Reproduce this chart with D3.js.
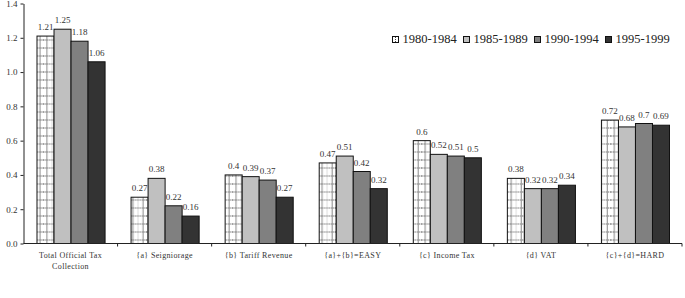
<!DOCTYPE html>
<html>
<head>
<meta charset="utf-8">
<script src="https://cdn.jsdelivr.net/npm/d3@7"></script>
<style>
  body { margin: 0; background: #fff; }
  svg { display: block; font-family: 'Liberation Serif', 'Times New Roman', serif; }
</style>
</head>
<body>
<svg width="685" height="298"></svg>
<script>
const categories = ['Total Official Tax Collection', '{a} Seigniorage', '{b} Tariff Revenue', '{a}+{b}=EASY', '{c} Income Tax', '{d} VAT', '{c}+{d}=HARD']
const categoryLines = [['Total Official Tax', 'Collection'], ['{a} Seigniorage'], ['{b} Tariff Revenue'], ['{a}+{b}=EASY'], ['{c} Income Tax'], ['{d} VAT'], ['{c}+{d}=HARD']]
const series = ['1980-1984', '1985-1989', '1990-1994', '1995-1999']
const v1980 = [1.21, 0.27, 0.4, 0.47, 0.6, 0.38, 0.72]
const v1985 = [1.25, 0.38, 0.39, 0.51, 0.52, 0.32, 0.68]
const v1990 = [1.18, 0.22, 0.37, 0.42, 0.51, 0.32, 0.7]
const v1995 = [1.06, 0.16, 0.27, 0.32, 0.5, 0.34, 0.69]
const yTicks = [0, 0.2, 0.4, 0.6, 0.8, 1.0, 1.2, 1.4]

const svg = d3.select('svg')
const plotLeft = 23.5, plotRight = 682, plotTop = 3.5, plotBottom = 243.5

const values = [v1980, v1985, v1990, v1995]
const fills = ['#fff', '#c0c0c0', '#808080', '#333333']

const x0 = d3.scaleBand().domain(categories).range([plotLeft, plotRight]).padding(0)
const x1 = d3.scaleBand().domain(series).range([13, x0.bandwidth() - 13]).padding(0)
const y = d3.scaleLinear().domain([0, 1.4]).range([plotBottom, plotTop])
const bw = x1.bandwidth()

// dotted grid for the first series, one pattern per bar so it lines up
const defs = svg.append('defs')
const pats = defs.selectAll('pattern')
  .data(categories)
  .join('pattern')
  .attr('id', (d, i) => 'grid' + i)
  .attr('patternUnits', 'userSpaceOnUse')
  .attr('x', d => x0(d) + x1(series[0]) + 0.5)
  .attr('y', plotBottom)
  .attr('width', bw).attr('height', 8)
pats.append('rect').attr('width', bw).attr('height', 8).attr('fill', '#fff')
pats.append('line').attr('x1', 3.5).attr('x2', 3.5).attr('y1', 0).attr('y2', 8)
  .attr('stroke', '#111').attr('stroke-dasharray', '1,1')
pats.append('line').attr('x1', bw - 3.5).attr('x2', bw - 3.5).attr('y1', 0).attr('y2', 8)
  .attr('stroke', '#111').attr('stroke-dasharray', '1,1')
pats.append('line').attr('x1', bw / 2).attr('x2', bw / 2).attr('y1', 0).attr('y2', 8)
  .attr('stroke', '#bbb').attr('stroke-dasharray', '1,1')
pats.append('line').attr('x1', 0).attr('x2', bw).attr('y1', 4.5).attr('y2', 4.5)
  .attr('stroke', '#444').attr('stroke-dasharray', '1,1')

// bars
const groups = svg.append('g')
  .selectAll('g')
  .data(categories)
  .join('g')
  .attr('transform', d => `translate(${x0(d)},0)`)

groups.selectAll('rect')
  .data((d, i) => series.map((s, j) => ({ s, j, i, v: values[j][i] })))
  .join('rect')
  .attr('x', d => x1(d.s) + 0.5)
  .attr('y', d => y(d.v))
  .attr('width', bw)
  .attr('height', d => plotBottom - y(d.v))
  .attr('fill', d => d.j === 0 ? `url(#grid${d.i})` : fills[d.j])
  .attr('stroke', '#111')
  .attr('stroke-width', 1)

groups.selectAll('text.val')
  .data((d, i) => series.map((s, j) => ({ s, j, v: values[j][i] })))
  .join('text')
  .attr('class', 'val')
  .attr('x', d => x1(d.s) + bw / 2 + 0.5)
  .attr('y', d => y(d.v) - 6)
  .attr('text-anchor', 'middle')
  .attr('font-size', 9)
  .attr('fill', '#333')
  .text(d => String(d.v))

// y axis
const yAxis = svg.append('g')
  .attr('transform', `translate(${plotLeft},0)`)
  .call(d3.axisLeft(y).tickValues(yTicks).tickFormat(d3.format('.1f')).tickSize(3).tickSizeOuter(0))
yAxis.select('.domain').attr('stroke', '#222')
yAxis.selectAll('line').attr('stroke', '#222')
yAxis.selectAll('text')
  .attr('font-family', "'Liberation Serif', serif")
  .attr('font-size', 9)
  .attr('fill', '#333')
  .attr('x', -6)

// x axis
const xAxis = svg.append('g')
xAxis.append('line')
  .attr('x1', plotLeft).attr('x2', plotRight)
  .attr('y1', plotBottom).attr('y2', plotBottom)
  .attr('stroke', '#222')
xAxis.selectAll('line.tick')
  .data(categories)
  .join('line')
  .attr('class', 'tick')
  .attr('x1', d => x0(d) + x0.bandwidth())
  .attr('x2', d => x0(d) + x0.bandwidth())
  .attr('y1', plotBottom).attr('y2', plotBottom + 3)
  .attr('stroke', '#222')

const labels = xAxis.selectAll('text')
  .data(categories)
  .join('text')
  .attr('x', d => x0(d) + x0.bandwidth() / 2)
  .attr('y', plotBottom + 14.5)
  .attr('text-anchor', 'middle')
  .attr('font-size', 8)
  .attr('letter-spacing', 0.35)
  .attr('fill', '#333')
labels.selectAll('tspan')
  .data((d, i) => categoryLines[i])
  .join('tspan')
  .attr('x', function () { return this.parentNode.getAttribute('x') })
  .attr('dy', (d, i) => i === 0 ? 0 : 11)
  .text(d => d)

// legend
const legendX = d3.scalePoint().domain(series).range([392.5, 605.5])
const legend = svg.append('g')
  .selectAll('g')
  .data(series)
  .join('g')
  .attr('transform', d => `translate(${legendX(d)},36.5)`)
legend.append('rect')
  .attr('width', 6).attr('height', 6)
  .attr('fill', (d, i) => fills[i])
  .attr('stroke', '#111')
legend.append('line')
  .filter((d, i) => i === 0)
  .attr('x1', 3).attr('x2', 3).attr('y1', 0.5).attr('y2', 5.5)
  .attr('stroke', '#444').attr('stroke-dasharray', '1,1')
legend.append('text')
  .attr('x', 10)
  .attr('y', 6)
  .attr('font-size', 12.5)
  .attr('fill', '#222')
  .text(d => d)
</script>
</body>
</html>
